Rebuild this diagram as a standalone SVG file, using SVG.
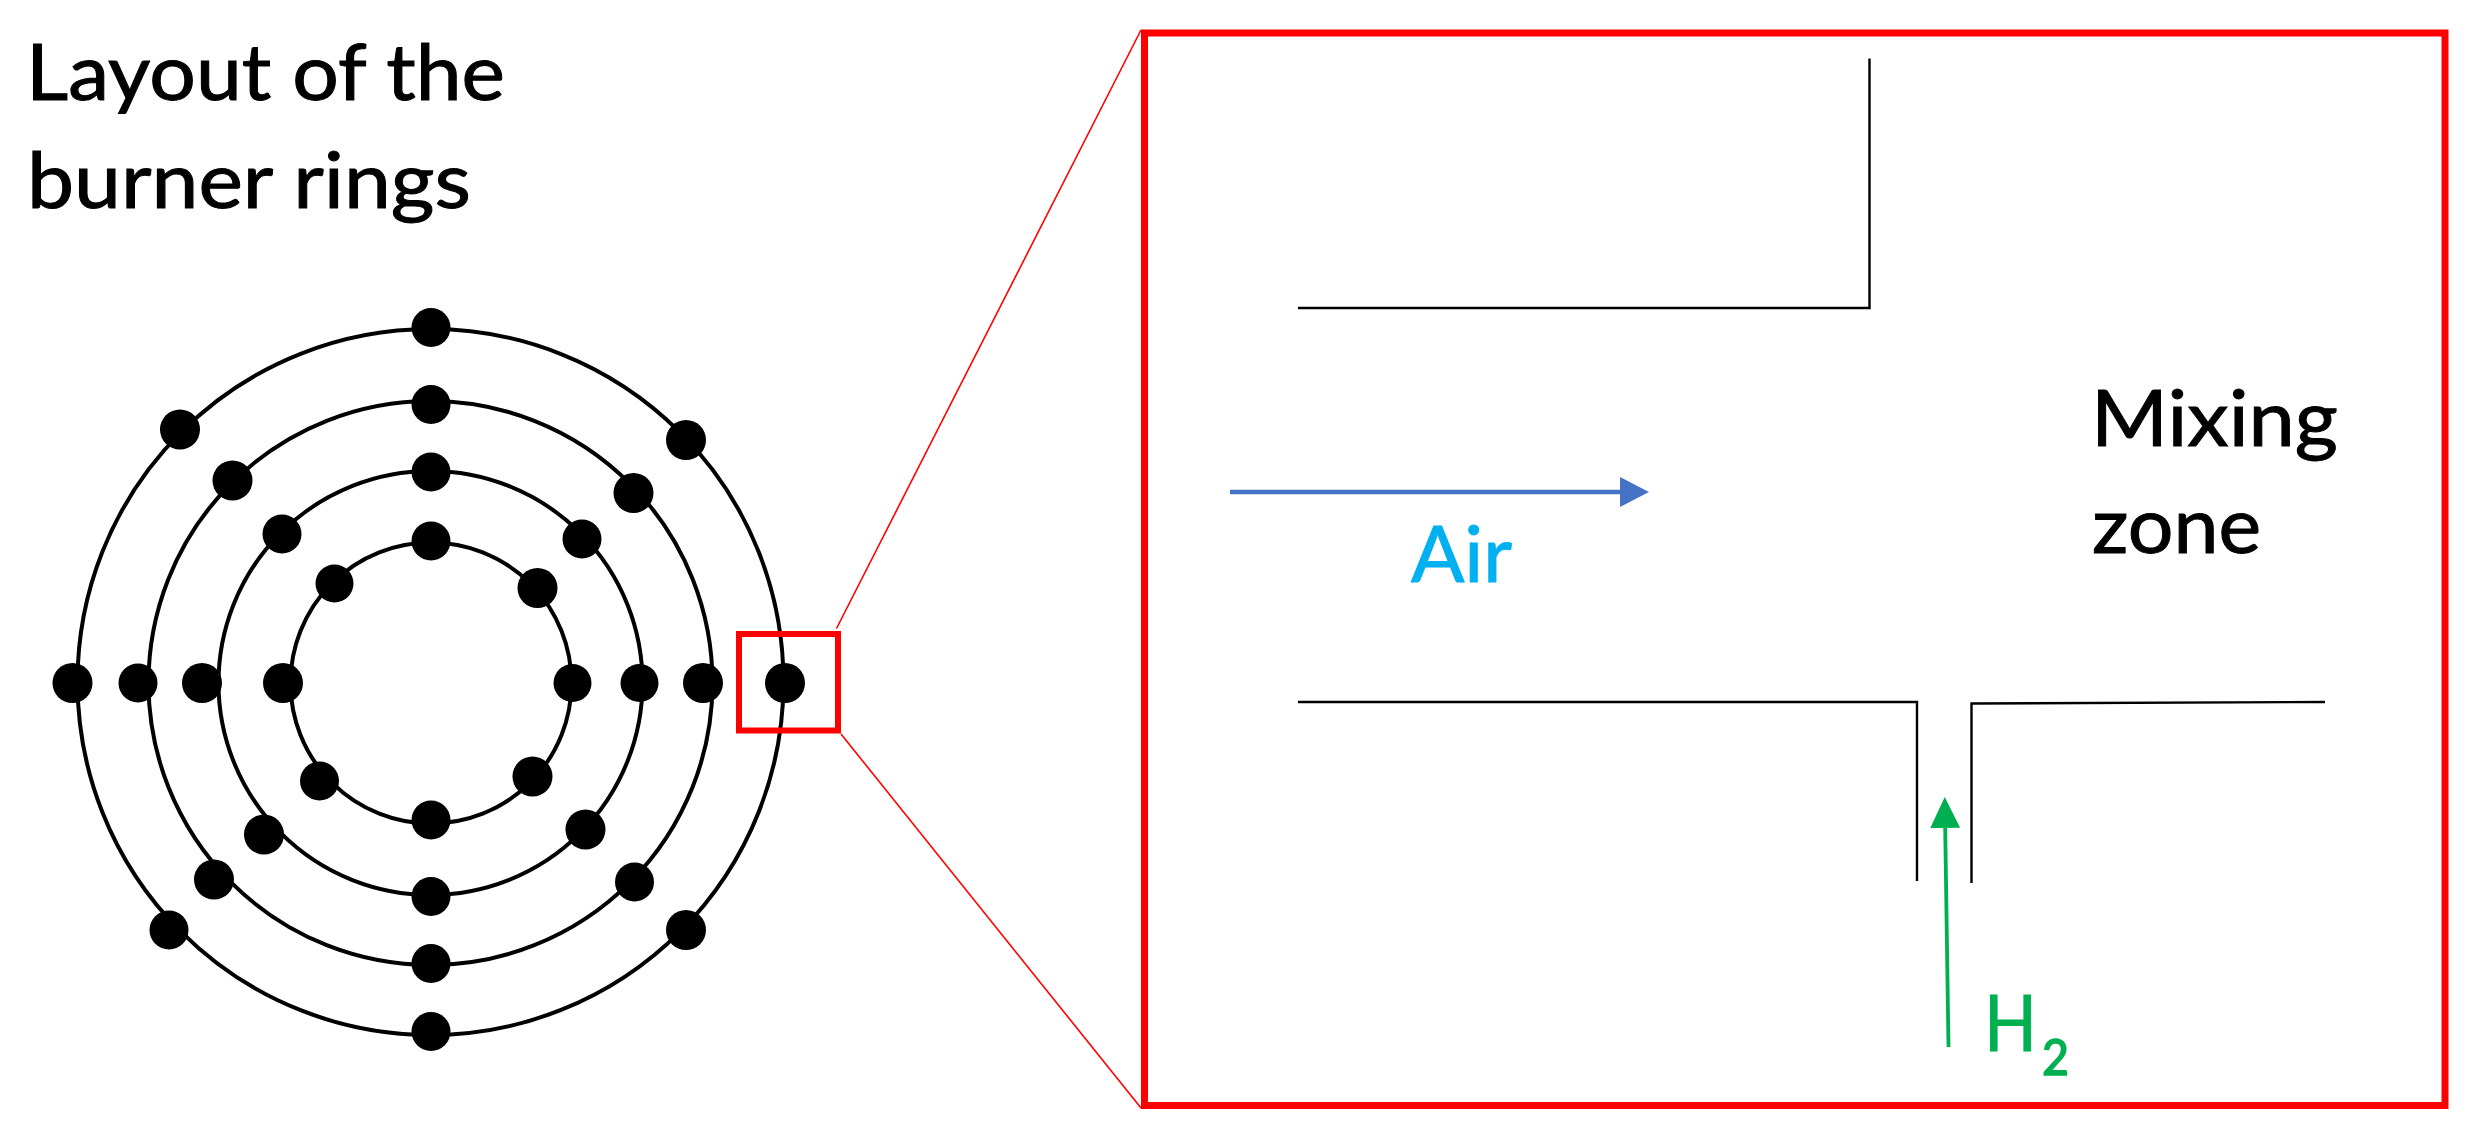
<svg xmlns="http://www.w3.org/2000/svg" width="2474" height="1139" viewBox="0 0 2474 1139">
<style>
.ring{fill:none;stroke:#000;stroke-width:4}
.dot{fill:#000}
.wall{fill:none;stroke:#000;stroke-width:2.4}
.zoomline{stroke:#ff0000;stroke-width:1.6;fill:none}
.frame{fill:none;stroke:#ff0000}
text{font-family:"Lato","Liberation Sans",sans-serif;stroke-width:1}
.t{font-size:78px;fill:#000;stroke:#000}
.air{font-size:78px;fill:#00B0F0;stroke:#00B0F0}
.h2{font-size:78px;fill:#00B050;stroke:#00B050}
.sub{font-size:50px;fill:#00B050;stroke:#00B050;stroke-width:1.6}
</style>
<defs>
<marker id="headBlue" markerUnits="userSpaceOnUse" markerWidth="30" markerHeight="30" refX="0" refY="15" orient="auto"><path d="M0 0L29 15L0 30Z" fill="#4472C4"/></marker>
<marker id="headGreen" markerUnits="userSpaceOnUse" markerWidth="31" markerHeight="30" refX="0" refY="15" orient="auto"><path d="M0 0L31 15L0 30Z" fill="#00B050"/></marker>
</defs>
<rect width="2474" height="1139" fill="#fff"/>
<g id="rings">
<circle class="ring" cx="430.5" cy="682" r="353"/>
<circle class="ring" cx="430.5" cy="683" r="282"/>
<circle class="ring" cx="430.5" cy="683" r="212"/>
<circle class="ring" cx="431" cy="683" r="140.5"/>
</g>
<g id="burners">
<g class="dot">
<circle cx="431" cy="327.5" r="19.5"/><circle cx="431" cy="404.5" r="19.5"/><circle cx="431" cy="472" r="19.5"/><circle cx="431" cy="541" r="19.5"/>
<circle cx="431" cy="820" r="19.5"/><circle cx="431" cy="896.5" r="19.5"/><circle cx="431" cy="963.5" r="19.5"/><circle cx="431" cy="1031.5" r="19.5"/>
<circle cx="72.5" cy="683" r="20"/><circle cx="138" cy="683" r="19.5"/><circle cx="202" cy="683" r="20"/><circle cx="283" cy="683" r="20"/>
<circle cx="572.5" cy="683" r="19"/><circle cx="639.5" cy="683" r="19"/><circle cx="703" cy="683" r="20"/><circle cx="785" cy="683" r="20"/>
<circle cx="180" cy="429.5" r="20"/><circle cx="686" cy="440" r="20"/><circle cx="232.5" cy="480.5" r="20"/><circle cx="633.5" cy="493" r="20"/>
<circle cx="282" cy="534" r="19.5"/><circle cx="582" cy="539" r="19.5"/><circle cx="334.5" cy="583.5" r="19"/><circle cx="537.5" cy="588" r="20"/>
<circle cx="319.5" cy="781" r="19.5"/><circle cx="532.5" cy="776.5" r="20"/><circle cx="264" cy="834.5" r="20"/><circle cx="585.5" cy="829.5" r="20"/>
<circle cx="214" cy="879.5" r="20"/><circle cx="634.5" cy="882" r="19.5"/><circle cx="169" cy="930" r="19.5"/><circle cx="686" cy="930" r="20"/>
</g>
</g>
<g id="callout">
<rect class="frame" x="739" y="634" width="99" height="96.5" stroke-width="6"/>
<line class="zoomline" x1="836.5" y1="628.5" x2="1141" y2="30"/>
<line class="zoomline" x1="841" y1="734" x2="1141" y2="1108"/>
<rect class="frame" x="1144.5" y="33" width="1300.5" height="1072.5" stroke-width="7"/>
</g>
<g id="burner-section">
<path class="wall" d="M1298 308H1869.5V58.5"/>
<path class="wall" d="M1298 702H1917V881"/>
<path class="wall" d="M1971.5 883V703.5L2325 702"/>
</g>
<g id="connectors">
<line x1="1230" y1="492" x2="1620" y2="492" stroke="#4472C4" stroke-width="4.4" marker-end="url(#headBlue)"/>
<line x1="1948.5" y1="1047" x2="1945.2" y2="828" stroke="#00B050" stroke-width="3.8" marker-end="url(#headGreen)"/>
</g>
<g id="labels">
<text class="t" x="26" y="100" textLength="479" lengthAdjust="spacingAndGlyphs">Layout of the</text>
<text class="t" x="27" y="208" textLength="444" lengthAdjust="spacingAndGlyphs">burner rings</text>
<text class="t" x="2091" y="445.5" textLength="247" lengthAdjust="spacingAndGlyphs">Mixing</text>
<text class="t" x="2092" y="553" textLength="169" lengthAdjust="spacingAndGlyphs">zone</text>
<text class="air" x="1411" y="582" textLength="101" lengthAdjust="spacingAndGlyphs">Air</text>
<text class="h2" x="1984" y="1051" textLength="53" lengthAdjust="spacingAndGlyphs">H</text>
<text class="sub" x="2042" y="1075" textLength="27" lengthAdjust="spacingAndGlyphs">2</text>
</g>
</svg>
